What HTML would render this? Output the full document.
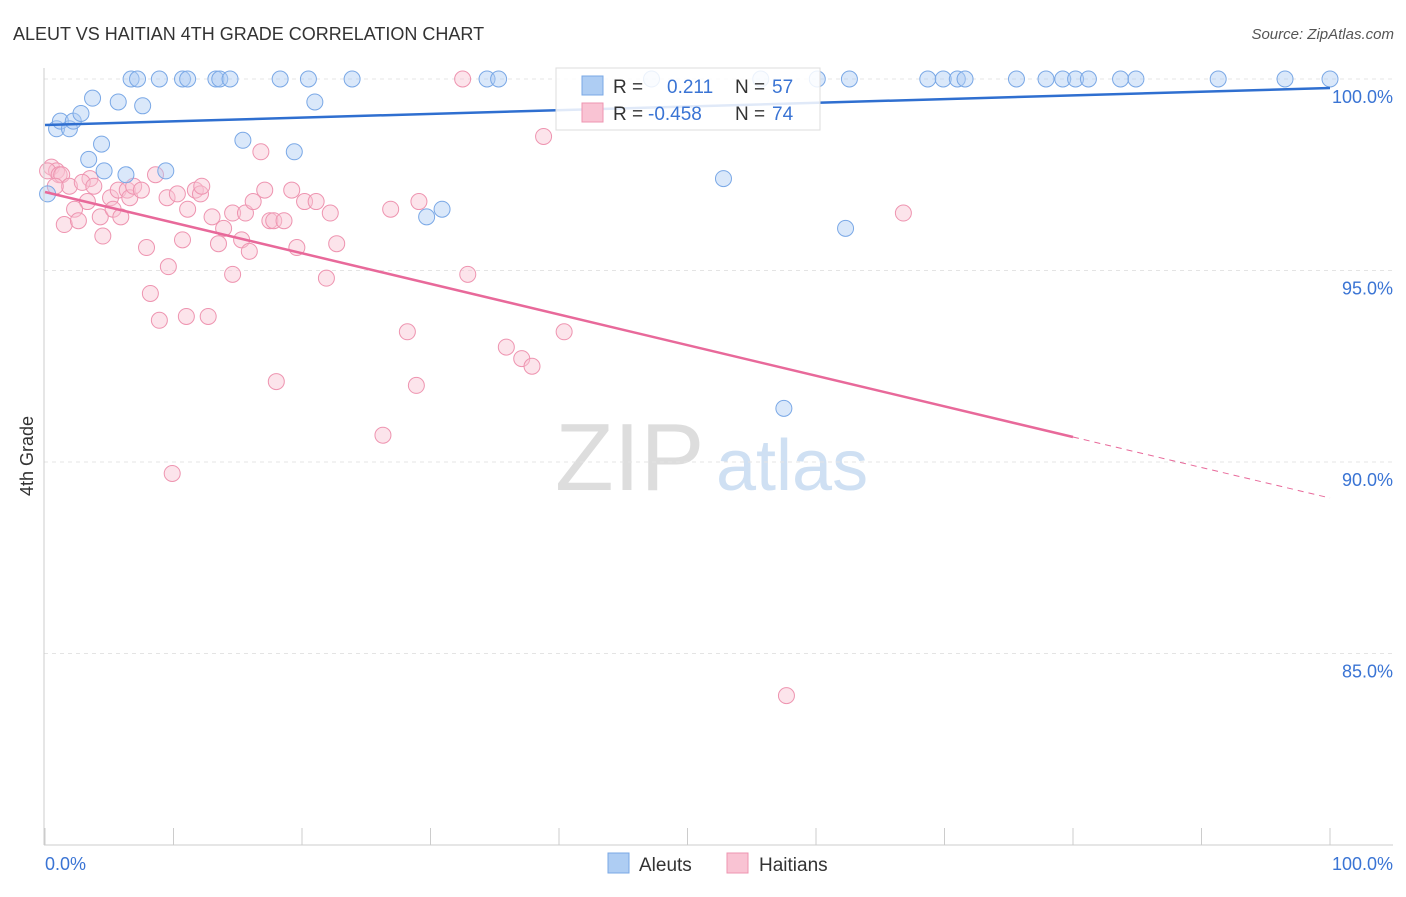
<!DOCTYPE html>
<html><head><meta charset="utf-8"><style>
body{margin:0;background:#fff;font-family:"Liberation Sans",sans-serif}
svg text{font-family:"Liberation Sans",sans-serif}
</style></head><body>
<svg id="c" width="1406" height="892" xmlns="http://www.w3.org/2000/svg">
<text x="13" y="40" font-size="18" fill="#333">ALEUT VS HAITIAN 4TH GRADE CORRELATION CHART</text>
<text x="1394" y="39" font-size="15" fill="#555" font-style="italic" text-anchor="end">Source: ZipAtlas.com</text>
<text x="33" y="456" font-size="18" fill="#333" transform="rotate(-90 33 456)" text-anchor="middle">4th Grade</text>
<text x="555" y="490" font-size="96" fill="#ddd" font-family="Liberation Serif">ZIP</text>
<text x="716" y="490" font-size="72" fill="#cfe0f3">atlas</text>
<g id="grid"></g><g id="pts"></g><g id="lines"></g>
<line x1="44" y1="68" x2="44" y2="845" stroke="#ccc"/>
<line x1="44" y1="845" x2="1393" y2="845" stroke="#ccc"/>
<text x="45" y="870" font-size="18" fill="#3a74d4">0.0%</text>
<text x="1393" y="870" font-size="18" fill="#3a74d4" text-anchor="end">100.0%</text>
<g>
<rect x="556" y="68" width="264" height="62" fill="#fff" fill-opacity="0.85" stroke="#ddd"/>
<rect x="582" y="76" width="21" height="19" fill="#aecdf3" stroke="#7aa8e6"/>
<rect x="582" y="103" width="21" height="19" fill="#f9c3d3" stroke="#ee94b0"/>
<text x="613" y="93" font-size="19" fill="#333">R =</text><text x="667" y="93" font-size="19" fill="#3a74d4">0.211</text>
<text x="735" y="93" font-size="19" fill="#333">N =</text><text x="772" y="93" font-size="19" fill="#3a74d4">57</text>
<text x="613" y="120" font-size="19" fill="#333">R =</text><text x="648" y="120" font-size="19" fill="#3a74d4">-0.458</text>
<text x="735" y="120" font-size="19" fill="#333">N =</text><text x="772" y="120" font-size="19" fill="#3a74d4">74</text>
</g>
<g>
<rect x="608" y="853" width="21" height="20" fill="#aecdf3" stroke="#7aa8e6"/>
<text x="639" y="871" font-size="19" fill="#333">Aleuts</text>
<rect x="727" y="853" width="21" height="20" fill="#f9c3d3" stroke="#ee94b0"/>
<text x="759" y="871" font-size="19" fill="#333">Haitians</text>
</g>
</svg>
<script>
const yTicks=[100,95,90,85];
const xTicks=[0,10,20,30,40,50,60,70,80,90,100];
const aleutX=[6.7,7.2,8.9,10.7,11.1,13.3,13.6,14.4,18.3,20.5,23.9,34.4,35.3,47.2,60.1,62.6,68.7,69.9,71,71.6,75.6,77.9,79.2,80.2,81.2,83.7,84.9,91.3,96.5,100,55.7,0.9,1.2,1.9,2.2,2.8,3.7,5.7,7.6,21,3.4,4.4,4.6,6.3,9.4,15.4,19.4,0.2,29.7,30.9,52.8,62.3,57.5];
const aleutY=[100,100,100,100,100,100,100,100,100,100,100,100,100,100,100,100,100,100,100,100,100,100,100,100,100,100,100,100,100,100,100,98.7,98.9,98.7,98.9,99.1,99.5,99.4,99.3,99.4,97.9,98.3,97.6,97.5,97.6,98.4,98.1,97,96.4,96.6,97.4,96.1,91.4];
const haitiX=[32.5,38.8,0.5,0.9,0.2,1.1,1.3,3.5,1.9,2.9,3.8,0.8,3.3,2.3,1.5,2.6,4.3,4.5,5.1,5.3,5.9,5.7,6.4,6.6,6.9,7.5,8.6,9.5,10.3,11.1,11.7,12.1,12.2,13,13.5,13.9,14.6,14.6,15.3,15.6,15.9,16.2,16.8,17.1,17.5,17.8,18.6,19.2,19.6,20.2,21.1,21.9,22.2,22.7,7.9,8.2,8.9,9.6,10.7,11,12.7,18,9.9,26.3,28.2,28.9,26.9,29.1,32.9,35.9,37.1,37.9,40.4,66.8,57.7];
const haitiY=[100,98.5,97.7,97.6,97.6,97.5,97.5,97.4,97.2,97.3,97.2,97.2,96.8,96.6,96.2,96.3,96.4,95.9,96.9,96.6,96.4,97.1,97.1,96.9,97.2,97.1,97.5,96.9,97,96.6,97.1,97,97.2,96.4,95.7,96.1,94.9,96.5,95.8,96.5,95.5,96.8,98.1,97.1,96.3,96.3,96.3,97.1,95.6,96.8,96.8,94.8,96.5,95.7,95.6,94.4,93.7,95.1,95.8,93.8,93.8,92.1,89.7,90.7,93.4,92,96.6,96.8,94.9,93,92.7,92.5,93.4,96.5,83.9];
const sx=v=>45+v*12.85, sy=v=>79+(100-v)*38.3;
const NS="http://www.w3.org/2000/svg";
function mk(p,t,a){const e=document.createElementNS(NS,t);for(const k in a)e.setAttribute(k,a[k]);p.appendChild(e);return e;}
const g=document.getElementById('grid'),c=document.getElementById('c');
yTicks.forEach(v=>{const l=mk(g,'line',{x1:44,x2:1393,y1:sy(v),y2:sy(v),stroke:'#e4e4e4','stroke-dasharray':'4,4'});


const t=mk(g,'text',{x:1393,y:sy(v)+24,'font-size':18,fill:'#3a74d4','text-anchor':'end'});t.textContent=v.toFixed(1)+'%';

});
xTicks.forEach(v=>{const l=mk(g,'line',{x1:sx(v),x2:sx(v),y1:828,y2:845,stroke:'#ccc'});

});
const P=document.getElementById('pts');
haitiX.forEach((x,i)=>{const e=mk(P,'circle',{cx:sx(x),cy:sy(haitiY[i]),r:8,fill:'#f9c3d3','fill-opacity':0.45,stroke:'#ee94b0','stroke-width':1});

});
aleutX.forEach((x,i)=>{const e=mk(P,'circle',{cx:sx(x),cy:sy(aleutY[i]),r:8,fill:'#aecdf3','fill-opacity':0.45,stroke:'#7aa8e6','stroke-width':1});

});
const L=document.getElementById('lines');
let e=mk(L,'line',{x1:sx(0),y1:125,x2:sx(100),y2:88,stroke:'#2f6fd0','stroke-width':2.5});


e=mk(L,'line',{x1:sx(0),y1:192,x2:sx(80),y2:437,stroke:'#e8699a','stroke-width':2.5});


e=mk(L,'line',{x1:sx(80),y1:437,x2:sx(100),y2:498,stroke:'#e8699a','stroke-width':1,'stroke-dasharray':'6,5'});


</script>
</body></html>
